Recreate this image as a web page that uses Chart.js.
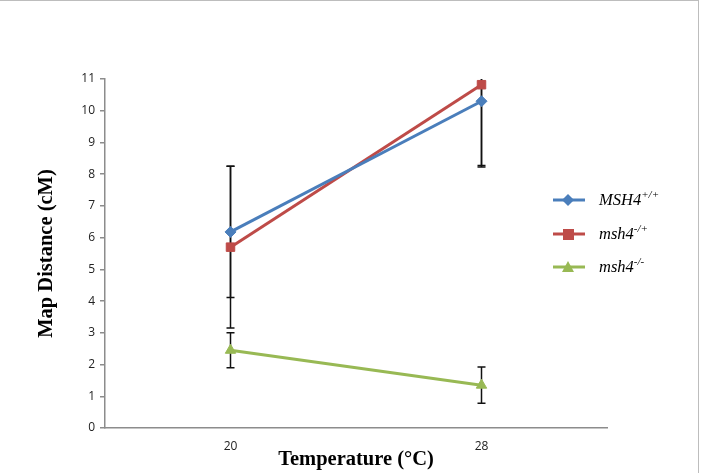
<!doctype html>
<html lang="en">
<head>
<meta charset="utf-8">
<title>Map Distance vs Temperature</title>
<script src="https://cdn.jsdelivr.net/npm/chart.js@4.4.1/dist/chart.umd.min.js"></script>
<style>
  body { margin: 0; background: #fff; }
  #wrap { position: relative; width: 701px; height: 473px; }
  #frame { position: absolute; left: 0; top: 0; width: 699px; height: 473px;
           border-top: 1px solid #bdbdbd; border-right: 1px solid #bdbdbd; box-sizing: border-box; pointer-events: none; }
  #legend { position: absolute; left: 553px; top: 190px; font-family: "Liberation Serif", "Times New Roman", serif;
            font-style: italic; font-size: 16.5px; color: #000; }
  #legend .item { height: 33.5px; display: flex; align-items: flex-start; }
  #legend svg { margin-top: 4px; margin-right: 14px; }
  #legend sup { font-size: 11px; vertical-align: 7px; line-height: 0; }
</style>
</head>
<body>
<div id="wrap">
  <canvas id="myChart" width="701" height="473"></canvas>
  <div id="frame"></div>
  <div id="legend"></div>
</div>
<script>
// data
var temps = ['20', '28'];
var seriesNames = ['MSH4', 'msh4', 'msh4'];
var seriesSups = ['+/+', '-/+', '-/-'];
var wildType = [6.18, 10.3];
var hetero = [5.7, 10.82];
var homo = [2.45, 1.35];
var wildTypeErr = [2.07, 2.07];
var heteroErr = [2.55, 2.55];
var homoErr = [0.55, 0.57];
var yTicks = [0, 1, 2, 3, 4, 5, 6, 7, 8, 9, 10, 11];

var colors = ['#4a7ebb', '#be4b48', '#98b954'];
var markers = ['rectRot', 'rect', 'triangle'];

var errorBars = {
  id: 'errorBars',
  beforeDatasetsDraw: function(chart) {
    var ctx = chart.ctx, area = chart.chartArea;
    var x = chart.scales.x, y = chart.scales.y;
    ctx.save();
    ctx.beginPath();
    ctx.rect(area.left, area.top, area.right - area.left, area.bottom - area.top);
    ctx.clip();
    ctx.strokeStyle = '#111';
    ctx.lineWidth = 1.5;
    chart.data.datasets.forEach(function(ds) {
      ds.data.forEach(function(v, i) {
        var px = x.getPixelForValue(i);
        var top = y.getPixelForValue(v + ds.err[i]);
        var bot = y.getPixelForValue(v - ds.err[i]);
        ctx.beginPath();
        ctx.moveTo(px, top); ctx.lineTo(px, bot);
        ctx.moveTo(px - 4, top); ctx.lineTo(px + 4, top);
        ctx.moveTo(px - 4, bot); ctx.lineTo(px + 4, bot);
        ctx.stroke();
      });
    });
    ctx.restore();
  }
};

var values = [wildType, hetero, homo];
var errs = [wildTypeErr, heteroErr, homoErr];
var datasets = values.map(function(d, k) {
  return {
    label: seriesNames[k] + seriesSups[k],
    data: d,
    err: errs[k],
    borderColor: colors[k],
    backgroundColor: colors[k],
    borderWidth: 3,
    pointStyle: markers[k],
    pointRadius: k === 0 ? 5.5 : 6,
    pointBorderWidth: 1,
    tension: 0
  };
});

new Chart(document.getElementById('myChart').getContext('2d'), {
  type: 'line',
  data: { labels: temps, datasets: datasets },
  plugins: [errorBars],
  options: {
    responsive: false,
    animation: false,
    layout: { padding: { left: 34, right: 94, top: 79, bottom: 1 } },
    plugins: { legend: { display: false }, tooltip: { enabled: false } },
    scales: {
      x: {
        offset: true,
        grid: { display: false, drawTicks: false },
        border: { color: '#8c8c8c', width: 1.5 },
        ticks: { padding: 11, color: '#222', font: { family: 'Open Sans', size: 12 } },
        title: { display: true, text: 'Temperature (°C)', padding: 0, color: '#000',
                 font: { family: 'Liberation Serif', size: 20.5, weight: 'bold' } },
        afterFit: function(s) { s.height = 44; }
      },
      y: {
        min: 0, max: 11,
        afterBuildTicks: function(s) { s.ticks = yTicks.map(function(v) { return { value: v }; }); },
        grid: { drawOnChartArea: false, tickLength: 5, color: '#8c8c8c', lineWidth: 1.5 },
        border: { color: '#8c8c8c', width: 1.5 },
        ticks: { padding: 5, color: '#222', font: { family: 'Open Sans', size: 12 } },
        title: { display: true, text: 'Map Distance (cM)', padding: 0, color: '#000',
                 font: { family: 'Liberation Serif', size: 20.5, weight: 'bold' } },
        afterFit: function(s) { s.width = 71; }
      }
    }
  }
});

// legend with superscripts
var shapes = [
  '<polygon points="15,0 21,6 15,12 9,6" fill="' + colors[0] + '"/>',
  '<rect x="10" y="1" width="11" height="11" fill="' + colors[1] + '"/>',
  '<polygon points="15,0 21,11 9,11" fill="' + colors[2] + '"/>'
];
var html = '';
for (var k = 0; k < 3; k++) {
  html += '<div class="item"><svg width="32" height="12"><line x1="0" y1="6" x2="32" y2="6" stroke="' + colors[k] +
    '" stroke-width="3"/>' + shapes[k] + '</svg><span>' + seriesNames[k] + '<sup>' + seriesSups[k] + '</sup></span></div>';
}
document.getElementById('legend').innerHTML = html;
</script>
</body>
</html>
